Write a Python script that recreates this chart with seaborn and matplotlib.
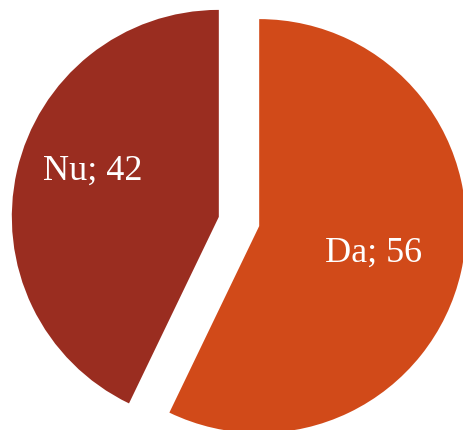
import numpy as np
import matplotlib
matplotlib.use("Agg")
import matplotlib.pyplot as plt
import seaborn as sns

# Survey answers
categories = ["Da", "Nu"]
values = [56, 42]

colors = ["#D14A19", "#9A2D20"]

sns.set_theme(style="white")
plt.rcParams["font.family"] = ["Liberation Serif", "DejaVu Serif"]

fig = plt.figure(figsize=(4.63, 4.30), dpi=100)
ax = fig.add_axes([0, 0, 1, 1])

wedges, _ = ax.pie(
    values,
    colors=colors,
    startangle=90,
    counterclock=False,
    explode=[0.1, 0.1],
    radius=1.0,
    wedgeprops=dict(linewidth=0),
)

# label placement: distance from the wedge tip and small angular nudge
label_dist = [0.57, 0.65]
label_nudge = [-0.5, -7.0]
for w, cat, val, d, nudge in zip(wedges, categories, values, label_dist, label_nudge):
    mid = np.deg2rad((w.theta1 + w.theta2) / 2 + nudge)
    cx, cy = w.center
    ax.text(cx + d * np.cos(mid), cy + d * np.sin(mid), f"{cat}; {val}",
            ha="center", va="center", color="white", fontsize=26)

ax.set_aspect("equal")
ax.set_xlim(-1.1546, 1.0821)
ax.set_ylim(-1.0072, 1.0700)
ax.axis("off")

fig.savefig("out.png", dpi=100)
